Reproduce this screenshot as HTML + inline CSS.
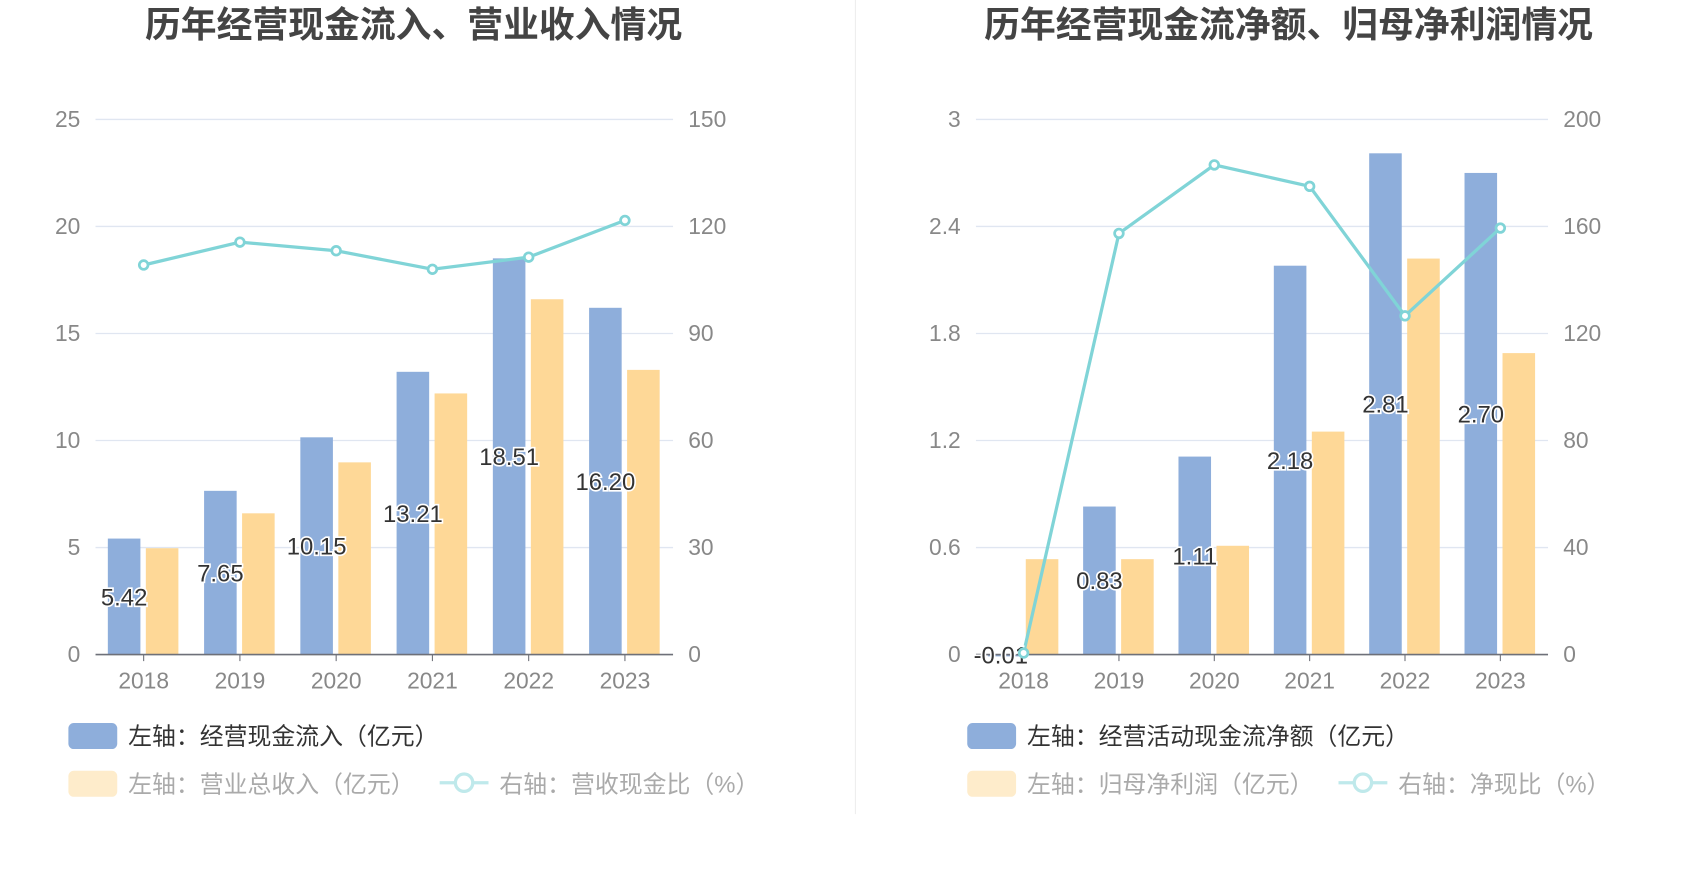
<!DOCTYPE html>
<html><head><meta charset="utf-8"><style>
html,body{margin:0;padding:0;background:#fff;}
svg{display:block;font-family:"Liberation Sans","Noto Sans CJK SC",sans-serif;}
</style></head><body>
<svg id="c" width="1700" height="874" viewBox="0 0 1566 805.1" xmlns="http://www.w3.org/2000/svg">
<line x1="788" y1="0" x2="788" y2="750" stroke="#eeeeee" stroke-width="1"/>
<g id="left"></g>
<g id="right"></g>
</svg>
<script>
const years = ["2018","2019","2020","2021","2022","2023"];
const leftBlue = [5.42, 7.65, 10.15, 13.21, 18.51, 16.20];
const leftYellow = [4.97, 6.6, 8.98, 12.2, 16.6, 13.3];
const leftLine = [109.2, 115.6, 113.2, 108.0, 111.4, 121.7];
const leftTicksL = ["0","5","10","15","20","25"];
const leftTicksR = ["0","30","60","90","120","150"];
const rightBlue = [-0.01, 0.83, 1.11, 2.18, 2.81, 2.70];
const rightYellow = [0.535, 0.535, 0.61, 1.25, 2.22, 1.69];
const rightLine = [0.6, 157.4, 183.0, 175.0, 126.6, 159.4];
const rightTicksL = ["0","0.6","1.2","1.8","2.4","3"];
const rightTicksR = ["0","40","80","120","160","200"];

const NS = "http://www.w3.org/2000/svg";
function mk(parent, tag, attrs, text){
  const e = document.createElementNS(NS, tag);
  for (const k in attrs) e.setAttribute(k, attrs[k]);
  if (text !== undefined) e.textContent = text;
  parent.appendChild(e); return e;
}
function chart(g, o){
  const top = 110, bot = 603, x0 = o.x0, x1 = o.x1;
  const lmax = parseFloat(o.tl[o.tl.length-1]), rmax = parseFloat(o.tr[o.tr.length-1]);
  const yL = v => bot - v / lmax * (bot - top);
  const yR = v => bot - v / rmax * (bot - top);
  const step = (x1 - x0) / years.length;
  const xc = i => x0 + step * (i + 0.5);
  const t = mk(g, "text", {x: o.tx, y: 34, "text-anchor": "middle", "font-size": 33, "font-weight": "bold", fill: "#444"}, o.title);
  
  
  o.tl.forEach((lab, i) => {
    const y = bot - i * (bot - top) / (o.tl.length - 1);
    if (i > 0) {
      const gl = mk(g, "line", {x1: x0, x2: x1, y1: y, y2: y, stroke: "#e0e6f1", "stroke-width": 1.2});
      
      
    }
    const a = mk(g, "text", {x: x0 - 14, y: y + 7, "text-anchor": "end", "font-size": 21, fill: "#888"}, lab);
    
    
    const b = mk(g, "text", {x: x1 + 14, y: y + 7, "text-anchor": "start", "font-size": 21, fill: "#888"}, o.tr[i]);
    
    
  });
  const bw = 30;
  years.forEach((yr, i) => {
    const c = xc(i);
    const yb = yL(o.blue[i]);
    const rb = mk(g, "rect", {x: c - bw - 3, y: Math.min(yb, bot), width: bw, height: Math.max(Math.abs(bot - yb), 0.5), fill: "#8eaedb"});
    
    
    const yy = yL(o.yellow[i]);
    const ry = mk(g, "rect", {x: c + 2, y: yy, width: bw, height: bot - yy, fill: "#fed897"});
    
    
    const tk = mk(g, "line", {x1: c, x2: c, y1: bot, y2: bot + 6, stroke: "#6e7079"});
    
    
    const xl = mk(g, "text", {x: c, y: bot + 31, "text-anchor": "middle", "font-size": 21, fill: "#888"}, yr);
    
    
  });
  const ax = mk(g, "line", {x1: x0, x2: x1, y1: bot, y2: bot, stroke: "#6e7079", "stroke-width": 1.5});
  
  
  const pts = o.line.map((v, i) => xc(i) + "," + yR(v)).join(" ");
  const pl = mk(g, "polyline", {points: pts, fill: "none", stroke: "#80d4d7", "stroke-width": 3});
  
  
  years.forEach((yr, i) => {
    const c = xc(i) - bw / 2 - 3;
    const yb = yL(o.blue[i]);
    const my = (Math.min(yb, bot) + bot) / 2;
    const s = o.blue[i].toFixed(2);
    const lx = o.blue[i] < 0.05 ? c - 3 : c;
    const lb = mk(g, "text", {x: lx, y: my + 8, "text-anchor": "middle", "font-size": 22, fill: "#333", stroke: "#fff", "stroke-width": 3, "paint-order": "stroke"}, s);
    
    
  });
  o.line.forEach((v, i) => {
    const p = mk(g, "circle", {cx: xc(i), cy: yR(v), r: 4, fill: "#fff", stroke: "#80d4d7", "stroke-width": 2.5});
    
    
  });
  const lx = o.lx;
  const r1 = mk(g, "rect", {x: lx, y: 666, width: 45, height: 24, rx: 5, fill: "#8eaedb"});
  
  
  const t1 = mk(g, "text", {x: lx + 55, y: 686, "font-size": 22, fill: "#333"}, o.leg1);
  
  
  const r2 = mk(g, "rect", {x: lx, y: 710, width: 45, height: 24, rx: 5, fill: "#feeccb"});
  
  
  const t2 = mk(g, "text", {x: lx + 55, y: 730, "font-size": 22, fill: "#aaa"}, o.leg2);
  
  
  const ll = mk(g, "line", {x1: o.lix, x2: o.lix + 45, y1: 721, y2: 721, stroke: "#bfe9eb", "stroke-width": 3});
  
  
  const lc = mk(g, "circle", {cx: o.lix + 22.5, cy: 721, r: 8, fill: "#fff", stroke: "#bfe9eb", "stroke-width": 3});
  
  
  const t3 = mk(g, "text", {x: o.lix + 55, y: 730, "font-size": 22, fill: "#aaa"}, o.leg3);
  
  
}
chart(document.getElementById("left"), {x0: 88, x1: 620, tx: 381, title: "历年经营现金流入、营业收入情况", tl: leftTicksL, tr: leftTicksR,
  blue: leftBlue, yellow: leftYellow, line: leftLine, lx: 63, lix: 405,
  leg1: "左轴：经营现金流入（亿元）", leg2: "左轴：营业总收入（亿元）", leg3: "右轴：营收现金比（%）"});
chart(document.getElementById("right"), {x0: 899, x1: 1426, tx: 1187, title: "历年经营现金流净额、归母净利润情况", tl: rightTicksL, tr: rightTicksR,
  blue: rightBlue, yellow: rightYellow, line: rightLine, lx: 891, lix: 1233,
  leg1: "左轴：经营活动现金流净额（亿元）", leg2: "左轴：归母净利润（亿元）", leg3: "右轴：净现比（%）"});
</script>
</body></html>
